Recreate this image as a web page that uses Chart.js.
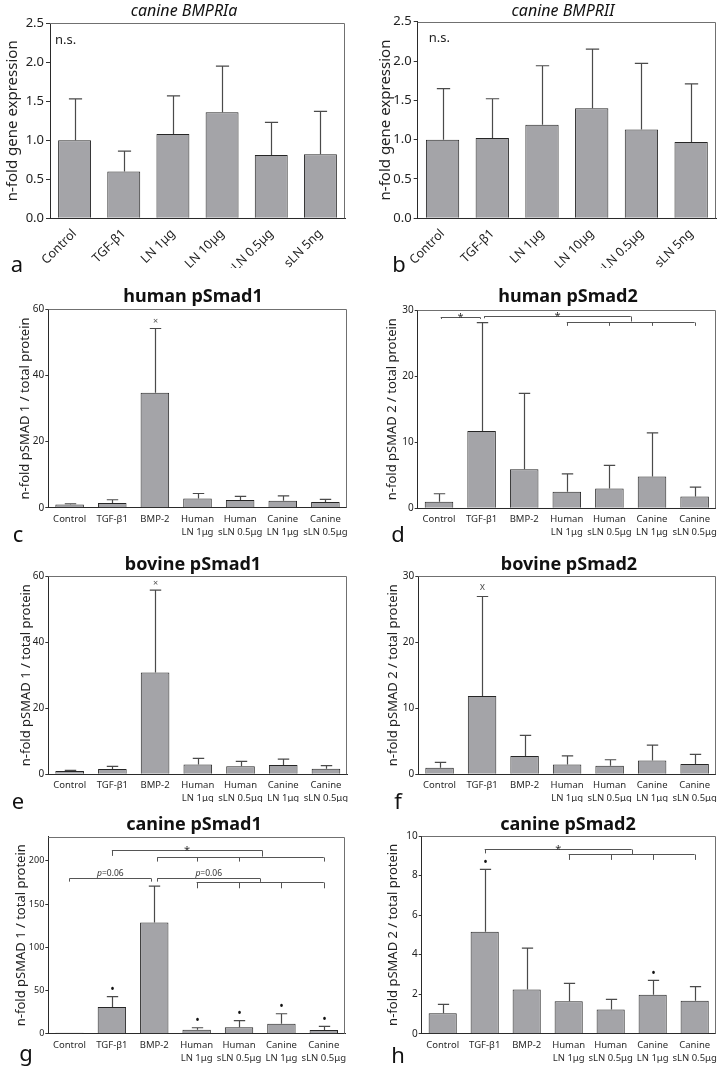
<!DOCTYPE html>
<html>
<head>
<meta charset="utf-8">
<title>BMP receptor expression and pSmad panels</title>
<script src="https://cdn.jsdelivr.net/npm/chart.js@4.4.1/dist/chart.umd.min.js"></script>
<style>
  html, body { margin: 0; padding: 0; background: #fff; }
  body { position: relative; width: 722px; height: 1066px; overflow: hidden; font-family: "Noto Sans", sans-serif; color: #1a1a1a; }
  canvas { position: absolute; }
  .ttl { position: absolute; transform: translate(-50%, -50%); white-space: nowrap; color: #111; }
  .ttl.gene { font-style: italic; font-size: 16px; }
  .ttl.smad { font-weight: bold; font-size: 18px; }
  .letter { position: absolute; transform: translate(-50%, -50%); font-size: 22px; color: #111; }
</style>
</head>
<body>
<script>
// categories
const geneCats = ['Control', 'TGF-β1', 'LN 1μg', 'LN 10μg', 'sLN 0.5μg', 'sLN 5ng'];
const smadCats = ['Control', 'TGF-β1', 'BMP-2', ['Human', 'LN 1μg'], ['Human', 'sLN 0.5μg'], ['Canine', 'LN 1μg'], ['Canine', 'sLN 0.5μg']];

// a - canine BMPRIa (mean, SD)
const bmpr1aMean = [1.00, 0.60, 1.08, 1.36, 0.81, 0.82];
const bmpr1aSD   = [0.53, 0.26, 0.49, 0.59, 0.42, 0.55];
// b - canine BMPRII
const bmpr2Mean = [1.00, 1.02, 1.19, 1.40, 1.13, 0.97];
const bmpr2SD   = [0.65, 0.50, 0.75, 0.75, 0.84, 0.74];
// c - human pSmad1
const humSmad1Mean = [1.0, 1.4, 34.8, 2.8, 2.3, 2.1, 1.7];
const humSmad1SD   = [0.2, 1.0, 19.4, 1.5, 1.1, 1.5, 0.8];
// d - human pSmad2
const humSmad2Mean = [1.0, 11.7, 5.9, 2.5, 3.0, 4.8, 1.8];
const humSmad2SD   = [1.2, 16.4, 11.5, 2.7, 3.5, 6.6, 1.4];
// e - bovine pSmad1
const bovSmad1Mean = [1.0, 1.6, 30.8, 3.0, 2.4, 2.8, 1.7];
const bovSmad1SD   = [0.2, 0.8, 24.9, 1.8, 1.5, 1.8, 0.9];
// f - bovine pSmad2
const bovSmad2Mean = [1.0, 11.85, 2.77, 1.5, 1.3, 2.07, 1.56];
const bovSmad2SD   = [0.8, 15.05, 3.13, 1.3, 0.9, 2.33, 1.44];
// g - canine pSmad1
const canSmad1Mean = [1.0, 30.9, 128.6, 4.6, 7.5, 11.5, 4.4];
const canSmad1SD   = [0, 12.0, 42.1, 2.3, 7.7, 11.6, 4.1];
// h - canine pSmad2
const canSmad2Mean = [1.03, 5.16, 2.24, 1.64, 1.23, 1.97, 1.67];
const canSmad2SD   = [0.45, 3.15, 2.09, 0.91, 0.51, 0.73, 0.71];

// symbols above the error bars
const humSmad1Marks = ['', '', '×', '', '', '', ''];
const bovSmad1Marks = ['', '', '×', '', '', '', ''];
const bovSmad2Marks = ['', 'x', '', '', '', '', ''];
const canSmad1Marks = ['', '•', '', '•', '•', '•', '•'];
const canSmad2Marks = ['', '•', '', '', '', '•', ''];

// significance brackets (category index, value units)
const humSmad2Brackets = [
  { x1: 0.04, x2: 0.97, y: 29.0, ticks: [[0.04, 28.65], [0.97, 28.65]], label: '*' },
  { x1: 1.06, x2: 4.5, y: 29.15, ticks: [[1.06, 28.75], [4.5, 28.25]], label: '*' },
  { x1: 3, x2: 6, y: 28.25, ticks: [[3, 27.6], [4, 27.6], [5, 27.6], [6, 27.6]] }
];
const canSmad1Brackets = [
  { x1: 1, x2: 4.55, y: 212.4, ticks: [[1, 205.8], [4.55, 205]], label: '*' },
  { x1: 2.07, x2: 6, y: 205, ticks: [[2.07, 199.2], [3, 199.2], [4, 199.2], [6, 199.2]] },
  { x1: 0, x2: 1.93, y: 180.7, ticks: [[0, 176], [1.93, 176]], label: 'p=0.06' },
  { x1: 2.07, x2: 4.5, y: 180.7, ticks: [[2.07, 176], [4.5, 175.7]], label: 'p=0.06' },
  { x1: 3, x2: 6, y: 175.7, ticks: [[3, 168.3], [4, 168.3], [5, 168.3], [6, 168.3]] }
];
const canSmad2Brackets = [
  { x1: 1, x2: 4.5, y: 9.36, ticks: [[1, 9.12], [4.5, 9.07]], label: '*' },
  { x1: 3, x2: 6, y: 9.07, ticks: [[3, 8.79], [4, 8.79], [5, 8.79], [6, 8.79]] }
];

Chart.defaults.font.family = '"Noto Sans", sans-serif';
Chart.defaults.color = '#222';

// x, y, w, h = canvas box; area = [left, right, top, bottom] of plot area in page px
const panels = [
  { id: 'a', kind: 'gene', x: 0, y: 0, w: 361, h: 268, area: [50, 345, 23.3, 218.3], cats: geneCats, mean: bmpr1aMean, sd: bmpr1aSD,
    yMax: 2.5, step: 0.5, tickSize: 13, yTitle: 'n-fold gene expression', yTitleX: 13, title: 'canine BMPRIa', titleX: 184, titleY: 10,
    note: 'n.s.', noteDx: 5, noteDy: 17, letter: 'a', letterX: 17, letterY: 263 },
  { id: 'b', kind: 'gene', x: 361, y: 0, w: 361, h: 268, area: [417.7, 716, 21.7, 218.3], cats: geneCats, mean: bmpr2Mean, sd: bmpr2SD,
    yMax: 2.5, step: 0.5, tickSize: 13, yTitle: 'n-fold gene expression', yTitleX: 25, title: 'canine BMPRII', titleX: 563, titleY: 10,
    note: 'n.s.', noteDx: 11, noteDy: 16.5, letter: 'b', letterX: 399, letterY: 263 },
  { id: 'c', kind: 'smad', x: 0, y: 268, w: 361, h: 272, area: [48.3, 346.7, 309.3, 507.7], cats: smadCats, mean: humSmad1Mean, sd: humSmad1SD,
    yMax: 60, step: 20, tickSize: 10, yTitle: 'n-fold pSMAD 1 / total protein', yTitleX: 25, title: 'human pSmad1', titleX: 193, titleY: 295,
    marks: humSmad1Marks, letter: 'c', letterX: 18, letterY: 533 },
  { id: 'd', kind: 'smad', x: 361, y: 268, w: 361, h: 272, area: [417.7, 719.5, 310, 508.3], cats: smadCats, mean: humSmad2Mean, sd: humSmad2SD,
    yMax: 30, step: 10, tickSize: 10, yTitle: 'n-fold pSMAD 2 / total protein', yTitleX: 31, title: 'human pSmad2', titleX: 568, titleY: 295,
    brackets: humSmad2Brackets, letter: 'd', letterX: 398, letterY: 533 },
  { id: 'e', kind: 'smad', x: 0, y: 540, w: 361, h: 262, area: [48.3, 347.3, 576, 774.3], cats: smadCats, mean: bovSmad1Mean, sd: bovSmad1SD,
    yMax: 60, step: 20, tickSize: 10, yTitle: 'n-fold pSMAD 1 / total protein', yTitleX: 26, title: 'bovine pSmad1', titleX: 193, titleY: 563,
    marks: bovSmad1Marks, letter: 'e', letterX: 18, letterY: 800 },
  { id: 'f', kind: 'smad', x: 361, y: 540, w: 361, h: 262, area: [418.3, 720, 576, 774.3], cats: smadCats, mean: bovSmad2Mean, sd: bovSmad2SD,
    yMax: 30, step: 10, tickSize: 10, yTitle: 'n-fold pSMAD 2 / total protein', yTitleX: 32, title: 'bovine pSmad2', titleX: 569, titleY: 563,
    marks: bovSmad2Marks, letter: 'f', letterX: 398, letterY: 800 },
  { id: 'g', kind: 'smad', x: 0, y: 802, w: 361, h: 264, area: [48.3, 345, 836.7, 1033.7], cats: smadCats, mean: canSmad1Mean, sd: canSmad1SD,
    yMax: 228, step: 50, tickSize: 9, yTitle: 'n-fold pSMAD 1 / total protein', yTitleX: 21, title: 'canine pSmad1', titleX: 194, titleY: 823,
    marks: canSmad1Marks, brackets: canSmad1Brackets, letter: 'g', letterX: 26, letterY: 1052 },
  { id: 'h', kind: 'smad', x: 361, y: 802, w: 361, h: 264, area: [421.7, 720.3, 836, 1033.7], cats: smadCats, mean: canSmad2Mean, sd: canSmad2SD,
    yMax: 10, step: 2, tickSize: 10, yTitle: 'n-fold pSMAD 2 / total protein', yTitleX: 32, title: 'canine pSmad2', titleX: 568, titleY: 823,
    marks: canSmad2Marks, brackets: canSmad2Brackets, letter: 'h', letterX: 398, letterY: 1054 }
];

// error bars, marks, brackets and the top/right frame
function extras(p) {
  return {
    id: 'extras',
    afterDatasetsDraw(chart) {
      const ctx = chart.ctx, ca = chart.chartArea;
      const xs = chart.scales.x, ys = chart.scales.y;
      const bars = chart.getDatasetMeta(0).data;
      ctx.save();

      ctx.strokeStyle = '#707070';
      ctx.lineWidth = 1;
      ctx.beginPath();
      ctx.moveTo(ca.left, Math.round(ca.top) + 0.5);
      ctx.lineTo(Math.round(ca.right) - 0.5, Math.round(ca.top) + 0.5);
      ctx.lineTo(Math.round(ca.right) - 0.5, ca.bottom);
      ctx.stroke();

      ctx.strokeStyle = '#4a4a4a';
      ctx.lineWidth = 1.2;
      bars.forEach((bar, i) => {
        const sd = p.sd[i];
        const yTop = ys.getPixelForValue(p.mean[i] + sd);
        const cx = Math.round(bar.x) + 0.5;
        if (sd > 0) {
          const half = bar.width * 0.2;
          ctx.beginPath();
          ctx.moveTo(cx, ys.getPixelForValue(p.mean[i]));
          ctx.lineTo(cx, yTop);
          ctx.moveTo(cx - half, yTop);
          ctx.lineTo(cx + half, yTop);
          ctx.stroke();
        }
        const m = p.marks ? p.marks[i] : '';
        if (m) {
          ctx.fillStyle = m === '•' ? '#111' : '#555';
          ctx.font = (m === '•' ? '12px' : m === 'x' ? '10px' : '9px') + ' "Noto Sans"';
          ctx.textAlign = 'center';
          ctx.textBaseline = 'middle';
          ctx.fillText(m, cx, yTop - (m === 'x' ? 9 : 7));
        }
      });

      (p.brackets || []).forEach(b => {
        const y = Math.round(ys.getPixelForValue(b.y)) + 0.5;
        ctx.strokeStyle = '#555';
        ctx.lineWidth = 1;
        ctx.beginPath();
        ctx.moveTo(xs.getPixelForValue(b.x1), y);
        ctx.lineTo(xs.getPixelForValue(b.x2), y);
        b.ticks.forEach(([tx, ty]) => {
          const px = Math.round(xs.getPixelForValue(tx)) + 0.5;
          ctx.moveTo(px, y);
          ctx.lineTo(px, ys.getPixelForValue(ty));
        });
        ctx.stroke();
        if (b.label) {
          const mx = (xs.getPixelForValue(b.x1) + xs.getPixelForValue(b.x2)) / 2;
          ctx.fillStyle = '#333';
          ctx.textBaseline = 'alphabetic';
          if (b.label === '*') {
            ctx.font = '11px "Noto Sans"';
            ctx.textAlign = 'center';
            ctx.fillText('*', mx, y + 3);
          } else {
            ctx.font = '8.5px "Noto Sans"';
            const rest = b.label.slice(1);
            const wr = ctx.measureText(rest).width;
            ctx.font = 'italic 8.5px "Noto Sans"';
            const wp = ctx.measureText('p').width;
            const x0 = mx - (wr + wp) / 2;
            ctx.textAlign = 'left';
            ctx.fillText('p', x0, y - 3);
            ctx.font = '8.5px "Noto Sans"';
            ctx.fillText(rest, x0 + wp, y - 3);
          }
        }
      });

      if (p.note) {
        ctx.fillStyle = '#222';
        ctx.font = '13px "Noto Sans"';
        ctx.textAlign = 'left';
        ctx.textBaseline = 'middle';
        ctx.fillText(p.note, ca.left + p.noteDx, ca.top + p.noteDy);
      }
      ctx.restore();
    }
  };
}

function addPanel(p) {
  const gene = p.kind === 'gene';
  const [aL, aR, aT, aB] = p.area;

  const cv = document.createElement('canvas');
  cv.width = p.w;
  cv.height = p.h;
  cv.style.left = p.x + 'px';
  cv.style.top = p.y + 'px';
  document.body.appendChild(cv);

  const t = document.createElement('div');
  t.className = 'ttl ' + p.kind;
  t.style.left = p.titleX + 'px';
  t.style.top = p.titleY + 'px';
  t.textContent = p.title;
  document.body.appendChild(t);

  const l = document.createElement('div');
  l.className = 'letter';
  l.style.left = p.letterX + 'px';
  l.style.top = p.letterY + 'px';
  l.textContent = p.letter;
  document.body.appendChild(l);

  const titleSize = gene ? 15 : 13;

  new Chart(cv, {
    type: 'bar',
    data: {
      labels: p.cats,
      datasets: [{
        data: p.mean,
        backgroundColor: '#a4a4a8',
        borderColor: '#262626',
        borderWidth: 1,
        categoryPercentage: 1,
        barPercentage: 0.67
      }]
    },
    options: {
      responsive: false,
      animation: false,
      devicePixelRatio: 1,
      layout: { padding: { left: 0, top: aT - p.y, right: p.x + p.w - aR, bottom: 0 } },
      plugins: { legend: { display: false }, tooltip: { enabled: false } },
      scales: {
        x: {
          grid: { display: false, drawTicks: false },
          border: { color: '#2a2a2a', width: 1 },
          ticks: gene
            ? { autoSkip: false, minRotation: 45, maxRotation: 45, padding: 8, color: '#222', font: { size: 12.5 } }
            : { autoSkip: false, maxRotation: 0, padding: 5, color: '#2a2a2a', font: { size: 9.5, lineHeight: 1.35 } },
          afterFit: s => { s.height = p.y + p.h - aB; }
        },
        y: {
          min: 0,
          max: p.yMax,
          grid: { drawOnChartArea: false, drawTicks: true, tickLength: gene ? 4 : 3, color: '#333' },
          border: { color: '#2a2a2a', width: 1 },
          ticks: {
            stepSize: p.step,
            padding: gene ? 2 : 1,
            color: '#222',
            font: { size: p.tickSize },
            callback: v => gene ? v.toFixed(1) : v
          },
          afterBuildTicks: s => {
            s.ticks = s.ticks.filter(tk => Math.abs(tk.value / p.step - Math.round(tk.value / p.step)) < 1e-6);
          },
          title: {
            display: true,
            text: p.yTitle,
            color: '#222',
            font: { size: titleSize, lineHeight: 1.2 },
            padding: { top: p.yTitleX - titleSize * 0.6, bottom: 0 }
          },
          afterFit: s => { s.width = aL - p.x; }
        }
      }
    },
    plugins: [extras(p)]
  });
}

panels.forEach(addPanel);
</script>
</body>
</html>
